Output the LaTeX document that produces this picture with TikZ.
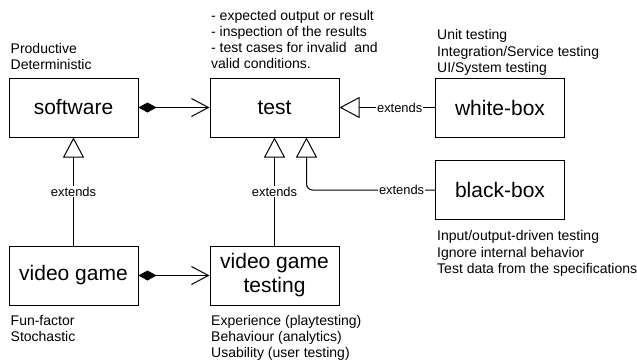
\documentclass[tikz,border=0pt]{standalone}
\usepackage{fontspec}
\setmainfont{Liberation Sans}
\usetikzlibrary{arrows.meta}

\begin{document}
\begin{tikzpicture}[x=1pt,y=-1pt,
		box/.style={draw,line width=1pt,minimum width=129pt,minimum height=59pt,align=center,font=\fontsize{21}{24}\selectfont},
		note/.style={align=left,inner sep=0pt,anchor=north west,font=\fontsize{14}{16.2}\selectfont},
		lbl/.style={fill=white,inner sep=1pt,font=\fontsize{12.9}{15}\selectfont},
		ext/.style={line width=1pt,-{Triangle[open,length=20pt,width=21pt]}},
		uses/.style={line width=1pt,{Diamond[length=18pt,width=10pt]}-{Straight Barb[length=17pt,width=18pt]}}]
					\useasboundingbox (0,0) rectangle (637,362);

					\node[box] (software) at (73.5,107.5) {software};
					\node[box] (test) at (274.5,107.5) {test};
					\node[box] (whitebox) at (500,107.5) {white-box};
					\node[box] (blackbox) at (500,190) {black-box};
					\node[box] (videogame) at (73.5,275.5) {video game};
					\node[box] (vgtesting) at (274.5,275.5) {video game\\testing};

					\node[note] (softwarenote) at (10.5,43) {Productive\\Deterministic};
					\node[note] (testnote) at (211,10) {- expected output or result\\- inspection of the results\\- test cases for invalid~ and\\valid conditions.};
					\node[note] (whitenote) at (437,29.5) {Unit testing\\Integration/Service testing\\UI/System testing};
					\node[note] (blacknote) at (437,230.5) {Input/output-driven testing\\Ignore internal behavior\\Test data from the specifications};
					\node[note] (gamenote) at (10.5,315) {Fun-factor\\Stochastic};
					\node[note] (vgtestingnote) at (211,315) {Experience (playtesting)\\Behaviour (analytics)\\Usability (user testing)};

					\draw[uses] (software) -- (test);
					\draw[uses] (videogame) -- (vgtesting);

					\draw[ext] (videogame) -- node[lbl] {extends} (software);
					\draw[ext] (vgtesting) -- node[lbl] {extends} (test);
					\draw[ext] (whitebox) -- node[lbl,pos=0.37] {extends} (test);
					\draw[ext,rounded corners=6pt] (blackbox.west) -| node[lbl,pos=0.13] {extends} ([xshift=32pt]test.south);
				\end{tikzpicture}
\end{document}
